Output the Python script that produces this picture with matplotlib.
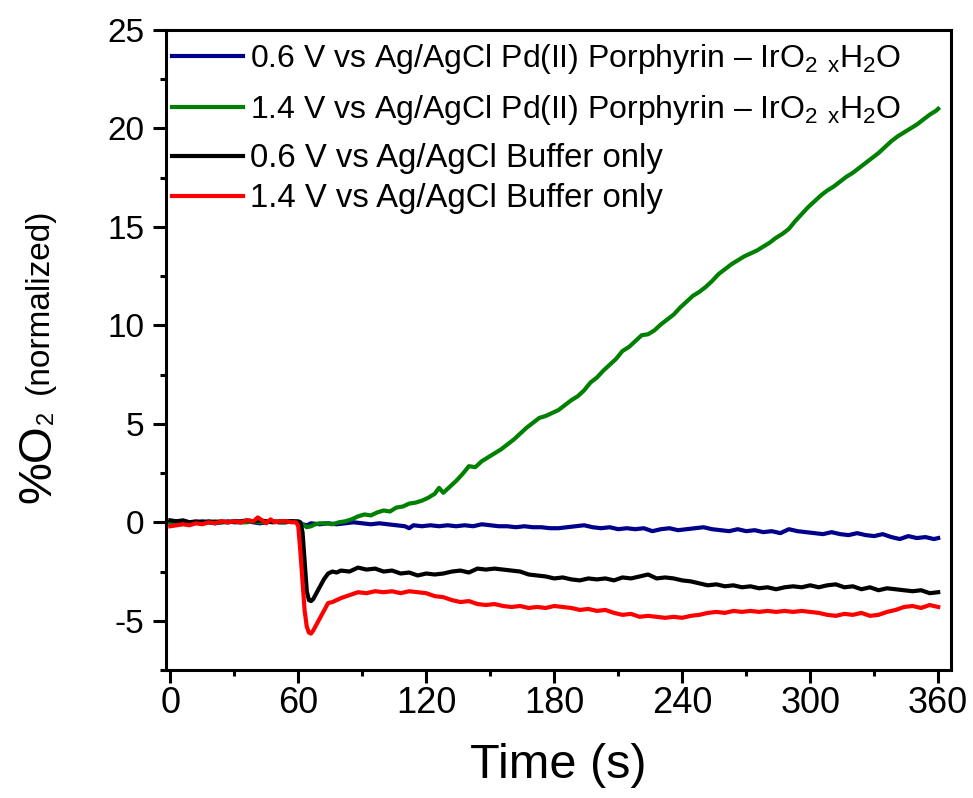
import matplotlib
matplotlib.use("Agg")
import matplotlib.pyplot as plt
from matplotlib.ticker import MultipleLocator
from matplotlib.legend import Legend

plt.rcParams['font.family'] = ['Liberation Sans', 'DejaVu Sans']
plt.rcParams['mathtext.fontset'] = 'custom'
plt.rcParams['mathtext.rm'] = 'Liberation Sans'
plt.rcParams['mathtext.it'] = 'Liberation Sans'
plt.rcParams['mathtext.bf'] = 'Liberation Sans:bold'
plt.rcParams['axes.unicode_minus'] = False

# ---------------- data ----------------
pre_t = [0, 3, 6, 9, 12, 15, 18, 21, 24, 27, 30, 33, 36, 39, 42, 45, 48, 51, 54, 57, 60]

blue_t = pre_t + [62, 64, 66, 70, 74, 78, 82, 86, 90, 94, 98, 102, 106, 110, 112, 114, 118, 122,
                  126, 130, 134, 138, 142, 146, 150, 154, 158, 162, 166, 170, 174, 178, 182, 186,
                  190, 194, 198, 202, 206, 210, 214, 218, 222, 226, 230, 234, 238, 242, 246, 250,
                  254, 258, 262, 266, 270, 274, 278, 282, 286, 290, 294, 298, 302, 306, 310, 314,
                  318, 322, 326, 330, 334, 338, 342, 346, 350, 354, 358, 360]
blue_v = [0.0, 0.05, 0.0, -0.05, 0.0, 0.05, 0.0, -0.05, 0.0, 0.05, 0.0, 0.0, 0.05, 0.0, -0.05,
          0.0, 0.05, 0.0, 0.0, 0.05, 0.0,
          -0.1, -0.15, -0.05, -0.1, -0.05, -0.1, -0.05, 0.0, -0.05, -0.1, -0.05, -0.1, -0.15,
          -0.2, -0.3, -0.15, -0.2, -0.15, -0.2, -0.15, -0.2, -0.15, -0.2, -0.1, -0.15, -0.2,
          -0.2, -0.25, -0.2, -0.25, -0.25, -0.3, -0.3, -0.25, -0.2, -0.15, -0.25, -0.3, -0.25,
          -0.35, -0.3, -0.35, -0.3, -0.45, -0.35, -0.3, -0.4, -0.35, -0.3, -0.25, -0.35, -0.4,
          -0.45, -0.35, -0.45, -0.4, -0.5, -0.45, -0.55, -0.35, -0.45, -0.5, -0.55, -0.6, -0.5,
          -0.6, -0.65, -0.55, -0.65, -0.7, -0.6, -0.75, -0.85, -0.7, -0.8, -0.75, -0.85, -0.8]

green_t = pre_t + [62, 64, 66, 68, 70, 73, 76, 79, 82, 85, 88, 91, 94, 97, 100, 103, 106, 109,
                   112, 115, 118, 121, 124, 126, 128, 131, 134, 137, 140, 143, 146, 149, 152,
                   155, 158, 161, 164, 167, 170, 173, 176, 179, 182, 185, 188, 191, 194, 197,
                   200, 203, 206, 209, 212, 215, 218, 221, 224, 227, 230, 233, 236, 239, 242,
                   245, 248, 251, 254, 257, 260, 263, 266, 269, 272, 275, 278, 281, 284, 287,
                   290, 293, 296, 299, 302, 305, 308, 311, 314, 317, 320, 323, 326, 329, 332,
                   335, 338, 341, 344, 347, 350, 353, 356, 359, 360]
green_v = [0.0, 0.0, 0.05, 0.0, 0.0, -0.05, 0.0, 0.05, 0.0, 0.0, 0.05, 0.0, 0.0, 0.05, 0.0,
           0.0, 0.05, 0.0, 0.0, 0.05, 0.0,
           -0.1, -0.25, -0.2, -0.1, -0.05, -0.05, -0.1, 0.0, 0.05, 0.15, 0.3, 0.4, 0.35, 0.5,
           0.6, 0.55, 0.75, 0.8, 0.95, 1.0, 1.1, 1.25, 1.45, 1.75, 1.5, 1.8, 2.1, 2.45, 2.85,
           2.8, 3.1, 3.3, 3.5, 3.7, 3.95, 4.2, 4.5, 4.8, 5.05, 5.3, 5.4, 5.55, 5.7, 5.95, 6.2,
           6.4, 6.7, 7.1, 7.35, 7.7, 8.0, 8.3, 8.7, 8.9, 9.2, 9.5, 9.55, 9.75, 10.05, 10.3,
           10.55, 10.9, 11.2, 11.5, 11.7, 11.95, 12.25, 12.6, 12.85, 13.1, 13.3, 13.5, 13.65,
           13.8, 14.0, 14.2, 14.45, 14.65, 14.9, 15.3, 15.65, 16.0, 16.3, 16.6, 16.85, 17.05,
           17.3, 17.55, 17.75, 18.0, 18.25, 18.5, 18.75, 19.05, 19.35, 19.6, 19.8, 20.0, 20.2,
           20.45, 20.7, 20.9, 21.0]

black_t = pre_t + [61, 62, 63, 64, 65, 66, 67, 68, 70, 72, 74, 76, 78, 80, 84, 88, 92, 96, 100,
                   104, 108, 112, 116, 120, 124, 128, 132, 136, 140, 144, 148, 152, 156, 160,
                   164, 168, 172, 176, 180, 184, 188, 192, 196, 200, 204, 208, 212, 216, 220,
                   224, 228, 232, 236, 240, 244, 248, 252, 256, 260, 264, 268, 272, 276, 280,
                   284, 288, 292, 296, 300, 304, 308, 312, 316, 320, 324, 328, 332, 336, 340,
                   344, 348, 352, 356, 360]
black_v = [0.1, 0.05, 0.1, 0.0, 0.05, 0.0, 0.05, 0.0, 0.05, 0.0, 0.05, 0.05, 0.1, 0.05, 0.1,
           0.05, 0.0, 0.05, 0.05, 0.05, 0.05,
           0.0, -0.5, -2.0, -3.5, -3.95, -4.0, -3.9, -3.7, -3.3, -2.9, -2.6, -2.5, -2.55, -2.45,
           -2.5, -2.3, -2.4, -2.35, -2.5, -2.45, -2.6, -2.55, -2.7, -2.6, -2.65, -2.6, -2.5,
           -2.45, -2.55, -2.35, -2.4, -2.35, -2.4, -2.45, -2.5, -2.65, -2.7, -2.75, -2.85, -2.8,
           -2.9, -2.95, -2.85, -2.9, -2.85, -2.95, -2.8, -2.85, -2.75, -2.65, -2.85, -2.8, -2.85,
           -2.95, -3.0, -3.1, -3.2, -3.15, -3.25, -3.2, -3.3, -3.25, -3.35, -3.3, -3.4, -3.3,
           -3.25, -3.3, -3.2, -3.3, -3.2, -3.15, -3.3, -3.25, -3.4, -3.3, -3.45, -3.35, -3.4,
           -3.45, -3.5, -3.45, -3.6, -3.55]

red_t = [0, 3, 6, 9, 12, 15, 18, 21, 24, 27, 30, 33, 36, 39, 41, 43, 45, 47, 49, 51, 54, 57, 59,
         60, 61, 62, 63, 64, 65, 66, 67, 68, 70, 72, 74, 76, 78, 80, 84, 88, 92, 96, 100, 104,
         108, 112, 116, 120, 124, 128, 132, 136, 140, 144, 148, 152, 156, 160, 164, 168, 172,
         176, 180, 184, 188, 192, 196, 200, 204, 208, 212, 216, 220, 224, 228, 232, 236, 240,
         244, 248, 252, 256, 260, 264, 268, 272, 276, 280, 284, 288, 292, 296, 300, 304, 308,
         312, 316, 320, 324, 328, 332, 336, 340, 344, 348, 352, 356, 360]
red_v = [-0.2, -0.15, -0.1, -0.15, -0.05, -0.1, 0.0, -0.05, 0.05, 0.0, 0.05, 0.0, 0.1, 0.05,
         0.25, 0.1, -0.05, 0.15, 0.0, 0.05, 0.05, 0.0, 0.0,
         -0.2, -1.5, -3.0, -4.5, -5.3, -5.6, -5.65, -5.5, -5.3, -4.9, -4.5, -4.1, -4.05, -3.95,
         -3.85, -3.7, -3.55, -3.6, -3.5, -3.55, -3.5, -3.6, -3.5, -3.55, -3.6, -3.75, -3.8,
         -3.95, -4.05, -4.0, -4.15, -4.2, -4.15, -4.25, -4.3, -4.25, -4.35, -4.3, -4.35, -4.25,
         -4.3, -4.35, -4.45, -4.4, -4.5, -4.45, -4.6, -4.7, -4.65, -4.8, -4.75, -4.8, -4.85,
         -4.8, -4.85, -4.75, -4.7, -4.6, -4.55, -4.6, -4.5, -4.55, -4.5, -4.55, -4.5, -4.55,
         -4.5, -4.55, -4.5, -4.55, -4.6, -4.7, -4.75, -4.65, -4.7, -4.6, -4.75, -4.7, -4.55,
         -4.45, -4.3, -4.25, -4.35, -4.2, -4.3]

labels = [r"0.6 V vs Ag/AgCl Pd(II) Porphyrin – IrO$_2$ $_\mathrm{x}$H$_2$O",
          r"1.4 V vs Ag/AgCl Pd(II) Porphyrin – IrO$_2$ $_\mathrm{x}$H$_2$O",
          "0.6 V vs Ag/AgCl Buffer only",
          "1.4 V vs Ag/AgCl Buffer only"]
colors = ["#00008B", "#008000", "#000000", "#FF0000"]

xticks = [0, 60, 120, 180, 240, 300, 360]
yticks = [-5, 0, 5, 10, 15, 20, 25]

# ---------------- figure ----------------
W, H = 973, 798
AX_L, AX_R, AX_T, AX_B = 166, 951, 30, 670
fig = plt.figure(figsize=(W / 100, H / 100), dpi=100)
ax = fig.add_axes([AX_L / W, 1 - AX_B / H, (AX_R - AX_L) / W, (AX_B - AX_T) / H])

series = [(blue_t, blue_v), (green_t, green_v), (black_t, black_v), (red_t, red_v)]
lines = []
for (t, v), c, lab in zip(series, colors, labels):
    ln, = ax.plot(t, v, color=c, lw=3.0, label=lab, solid_joinstyle='round')
    lines.append(ln)

ax.set_xlim(-2, 366)
ax.set_ylim(-7.5, 25)
ax.set_xticks(xticks)
ax.set_yticks(yticks)
ax.xaxis.set_minor_locator(MultipleLocator(30))
ax.yaxis.set_minor_locator(MultipleLocator(2.5))
ax.tick_params(which='major', direction='out', length=9.5, width=2.2)
ax.tick_params(which='minor', direction='out', length=4.5, width=2.2)
ax.tick_params(axis='x', which='major', labelsize=26, pad=2)
ax.tick_params(axis='y', which='major', labelsize=24, pad=6)
ax.tick_params(top=False, right=False)
for s in ax.spines.values():
    s.set_linewidth(2.2)

ax.set_xlabel("Time (s)", fontsize=35, labelpad=16)

# y label made of pieces (%O, subscript 2, (normalized))
fig.text(50 / W, 1 - 503 / H, "%O", fontsize=34, rotation=90, rotation_mode='anchor',
         ha='left', va='baseline')
fig.text(53 / W, 1 - 424 / H, "2", fontsize=17, rotation=90, rotation_mode='anchor',
         ha='left', va='baseline')
fig.text(48 / W, 1 - 394 / H, "(normalized)", fontsize=24, rotation=90, rotation_mode='anchor',
         ha='left', va='baseline')

# legend: one entry per row, positioned like the reference
row_px = [59, 110, 159, 199]
leg_sizes = [23.0, 23.0, 23.7, 23.7]
for ln, lab, ypx, fs in zip(lines, labels, row_px, leg_sizes):
    leg = Legend(ax, [ln], [lab], loc='center left',
                 bbox_to_anchor=(6 / (AX_R - AX_L), (AX_B - ypx) / (AX_B - AX_T)),
                 frameon=False, fontsize=fs, handlelength=2.16 * 23.7 / fs,
                 handletextpad=0.22 * 23.7 / fs,
                 borderaxespad=0.0, borderpad=0.0)
    ax.add_artist(leg)

fig.savefig("out.png", dpi=100)
